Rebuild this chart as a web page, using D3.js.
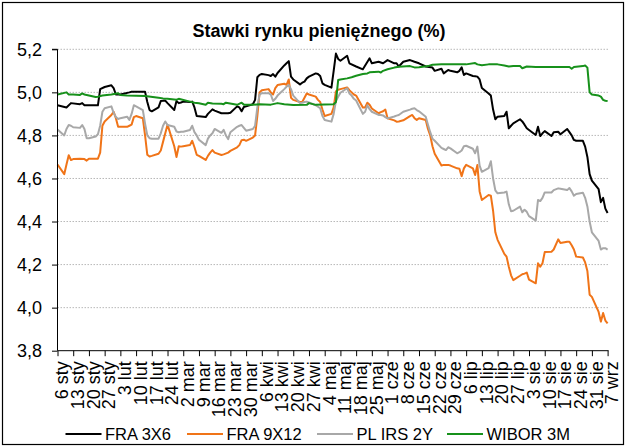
<!DOCTYPE html>
<html>
<head>
<meta charset="utf-8">
<script src="https://cdn.jsdelivr.net/npm/d3@7"></script>
<style>
  body { margin: 0; background: #fff; }
  svg { display: block; }
  .narrow { font-family: "Liberation Sans Narrow", "Arial Narrow", "Liberation Sans", Arial, sans-serif; }
</style>
</head>
<body>
<svg id="chart" width="627" height="447"></svg>
<script>
// Money-market rates, 2012 (daily quotes, %)
const YEAR = 2012;
const monthAbbr = ["sty", "lut", "mar", "kwi", "maj", "cze", "lip", "sie", "wrz", "paź", "lis", "gru"];
const yTickValues = [3.8, 4.0, 4.2, 4.4, 4.6, 4.8, 5.0, 5.2];
const seriesNames = ["FRA 3X6", "FRA 9X12", "PL IRS 2Y", "WIBOR 3M"];
const seriesColors = ["#000000", "#f07418", "#a8a8a8", "#17911b"];

const fra3x6 = [["01-06",4.94],["01-10",4.93],["01-12",4.95],["01-16",4.945],["01-17",4.95],["01-18",4.94],["01-24",4.94],["01-25",5.015],["01-27",5.025],["01-30",5.033],["01-31",5.02],["02-01",4.99],["02-03",4.99],["02-07",5.0],["02-08",5.003],["02-14",5.003],["02-15",4.955],["02-16",4.918],["02-17",4.912],["02-20",4.93],["02-21",4.96],["02-23",4.962],["02-24",4.95],["02-27",4.918],["02-28",4.96],["02-29",4.95],["03-01",4.953],["03-02",4.957],["03-05",4.955],["03-06",4.957],["03-07",4.93],["03-08",4.89],["03-12",4.885],["03-13",4.9],["03-15",4.921],["03-16",4.915],["03-19",4.903],["03-22",4.903],["03-23",4.905],["03-26",4.935],["03-27",4.93],["03-28",4.912],["03-29",4.932],["03-30",4.935],["04-02",4.945],["04-03",4.965],["04-04",5.07],["04-05",5.081],["04-06",5.085],["04-09",5.08],["04-10",5.076],["04-11",5.085],["04-12",5.073],["04-13",5.09],["04-16",5.125],["04-17",5.135],["04-18",5.145],["04-19",5.073],["04-20",5.06],["04-23",5.037],["04-24",5.045],["04-25",5.05],["04-26",5.065],["04-27",5.073],["04-30",5.088],["05-01",5.085],["05-02",5.076],["05-03",5.042],["05-04",5.035],["05-07",5.022],["05-08",5.1],["05-09",5.18],["05-10",5.155],["05-11",5.147],["05-14",5.17],["05-15",5.135],["05-18",5.12],["05-21",5.107],["05-24",5.158],["05-25",5.135],["05-28",5.142],["05-30",5.135],["06-01",5.15],["06-04",5.135],["06-05",5.135],["06-06",5.12],["06-08",5.142],["06-11",5.15],["06-13",5.142],["06-15",5.135],["06-18",5.12],["06-21",5.115],["06-22",5.1],["06-25",5.11],["06-26",5.088],["06-28",5.104],["06-29",5.1],["07-02",5.093],["07-03",5.1],["07-04",5.116],["07-05",5.081],["07-06",5.088],["07-09",5.076],["07-10",5.075],["07-11",5.073],["07-12",5.06],["07-13",5.02],["07-16",4.995],["07-17",4.985],["07-18",4.92],["07-19",4.875],["07-20",4.887],["07-23",4.89],["07-24",4.91],["07-25",4.833],["07-26",4.845],["07-27",4.856],["07-30",4.875],["07-31",4.865],["08-01",4.85],["08-02",4.833],["08-03",4.825],["08-06",4.802],["08-07",4.84],["08-08",4.797],["08-09",4.81],["08-10",4.82],["08-13",4.797],["08-14",4.815],["08-16",4.817],["08-17",4.805],["08-20",4.83],["08-21",4.815],["08-22",4.8],["08-23",4.779],["08-24",4.775],["08-27",4.775],["08-28",4.748],["08-29",4.7],["08-30",4.62],["08-31",4.59],["09-03",4.55],["09-04",4.49],["09-05",4.51],["09-06",4.46],["09-07",4.44]];

const fra9x12 = [["01-06",4.665],["01-09",4.62],["01-10",4.665],["01-11",4.708],["01-12",4.686],["01-13",4.69],["01-16",4.692],["01-18",4.69],["01-19",4.683],["01-20",4.692],["01-24",4.692],["01-25",4.72],["01-26",4.845],["01-27",4.865],["01-30",4.895],["01-31",4.91],["02-01",4.88],["02-02",4.84],["02-06",4.84],["02-07",4.845],["02-08",4.85],["02-09",4.885],["02-10",4.89],["02-13",4.88],["02-14",4.8],["02-15",4.71],["02-16",4.702],["02-17",4.705],["02-20",4.715],["02-21",4.73],["02-22",4.77],["02-23",4.81],["02-24",4.85],["02-27",4.75],["02-28",4.70],["02-29",4.75],["03-01",4.748],["03-02",4.75],["03-05",4.755],["03-06",4.775],["03-07",4.745],["03-08",4.71],["03-09",4.705],["03-12",4.686],["03-13",4.705],["03-14",4.72],["03-15",4.732],["03-16",4.72],["03-19",4.709],["03-20",4.712],["03-22",4.72],["03-23",4.728],["03-26",4.745],["03-27",4.755],["03-28",4.778],["03-29",4.78],["03-30",4.775],["04-02",4.79],["04-03",4.8],["04-04",4.89],["04-05",5.0],["04-06",5.01],["04-09",5.015],["04-10",5.0],["04-11",4.99],["04-12",5.02],["04-13",5.034],["04-16",5.04],["04-17",5.035],["04-18",5.06],["04-19",4.975],["04-20",4.965],["04-23",4.955],["04-24",4.955],["04-25",4.975],["04-26",4.995],["04-27",4.99],["04-30",4.98],["05-01",4.965],["05-02",4.955],["05-03",4.92],["05-04",4.89],["05-07",4.9],["05-08",4.93],["05-09",5.005],["05-10",5.012],["05-11",5.015],["05-14",5.023],["05-15",5.01],["05-16",5.0],["05-17",4.99],["05-18",4.985],["05-21",4.93],["05-22",4.93],["05-23",4.952],["05-24",4.942],["05-25",4.925],["05-28",4.903],["05-29",4.908],["05-30",4.912],["05-31",4.92],["06-01",4.88],["06-04",4.87],["06-05",4.864],["06-06",4.865],["06-08",4.87],["06-11",4.89],["06-12",4.895],["06-13",4.88],["06-14",4.872],["06-15",4.88],["06-18",4.872],["06-19",4.83],["06-20",4.8],["06-21",4.75],["06-22",4.715],["06-25",4.66],["06-26",4.663],["06-28",4.663],["06-29",4.66],["07-02",4.647],["07-03",4.645],["07-04",4.611],["07-05",4.647],["07-06",4.663],["07-09",4.647],["07-10",4.616],["07-11",4.663],["07-12",4.54],["07-13",4.5],["07-16",4.523],["07-17",4.52],["07-18",4.45],["07-19",4.35],["07-20",4.315],["07-23",4.25],["07-24",4.237],["07-25",4.19],["07-26",4.15],["07-27",4.128],["07-30",4.148],["07-31",4.155],["08-01",4.158],["08-02",4.163],["08-03",4.13],["08-06",4.113],["08-07",4.206],["08-08",4.19],["08-09",4.206],["08-10",4.258],["08-13",4.26],["08-14",4.27],["08-16",4.317],["08-17",4.3],["08-20",4.306],["08-21",4.306],["08-22",4.29],["08-23",4.27],["08-24",4.237],["08-27",4.233],["08-28",4.21],["08-29",4.17],["08-30",4.06],["08-31",4.05],["09-03",3.98],["09-04",3.935],["09-05",3.975],["09-06",3.94],["09-07",3.927]];

const plIrs2y = [["01-06",4.828],["01-09",4.8],["01-10",4.83],["01-11",4.848],["01-12",4.845],["01-13",4.838],["01-16",4.835],["01-17",4.848],["01-18",4.83],["01-19",4.787],["01-20",4.787],["01-23",4.795],["01-24",4.805],["01-25",4.845],["01-26",4.91],["01-27",4.926],["01-30",4.935],["01-31",4.905],["02-01",4.885],["02-02",4.876],["02-03",4.88],["02-06",4.887],["02-07",4.872],["02-08",4.9],["02-09",4.94],["02-10",4.935],["02-13",4.918],["02-14",4.855],["02-15",4.8],["02-16",4.787],["02-17",4.785],["02-20",4.785],["02-21",4.81],["02-22",4.845],["02-23",4.865],["02-24",4.848],["02-27",4.84],["02-28",4.818],["02-29",4.815],["03-01",4.817],["03-02",4.817],["03-05",4.825],["03-06",4.845],["03-07",4.815],["03-08",4.8],["03-09",4.78],["03-12",4.755],["03-13",4.785],["03-14",4.8],["03-15",4.81],["03-16",4.83],["03-19",4.812],["03-20",4.826],["03-21",4.8],["03-22",4.783],["03-23",4.815],["03-26",4.84],["03-27",4.845],["03-28",4.848],["03-29",4.835],["03-30",4.822],["04-02",4.83],["04-03",4.845],["04-04",4.93],["04-05",4.99],["04-06",4.996],["04-09",4.996],["04-10",4.99],["04-11",4.96],["04-12",4.97],["04-13",4.985],["04-16",5.015],["04-17",5.026],["04-18",5.034],["04-19",5.015],["04-20",4.985],["04-23",4.95],["04-24",4.952],["04-25",4.955],["04-26",4.957],["04-27",4.953],["04-30",4.94],["05-01",4.933],["05-02",4.926],["05-03",4.89],["05-04",4.872],["05-07",4.864],["05-08",4.9],["05-09",4.96],["05-10",4.98],["05-11",4.998],["05-14",5.019],["05-15",4.995],["05-16",4.985],["05-17",4.97],["05-18",4.962],["05-21",4.9],["05-22",4.91],["05-23",4.94],["05-24",4.922],["05-25",4.91],["05-28",4.895],["05-29",4.895],["05-30",4.893],["05-31",4.885],["06-01",4.879],["06-04",4.888],["06-05",4.892],["06-06",4.895],["06-08",4.91],["06-11",4.92],["06-12",4.924],["06-13",4.926],["06-14",4.918],["06-15",4.912],["06-18",4.887],["06-19",4.85],["06-20",4.815],["06-21",4.785],["06-22",4.775],["06-25",4.742],["06-26",4.737],["06-27",4.732],["06-28",4.745],["06-29",4.74],["07-02",4.717],["07-03",4.722],["07-04",4.73],["07-05",4.75],["07-06",4.752],["07-09",4.738],["07-10",4.717],["07-11",4.748],["07-12",4.66],["07-13",4.631],["07-16",4.648],["07-17",4.68],["07-18",4.6],["07-19",4.545],["07-20",4.531],["07-23",4.535],["07-24",4.539],["07-25",4.48],["07-26",4.448],["07-27",4.45],["07-30",4.469],["07-31",4.443],["08-01",4.455],["08-02",4.445],["08-03",4.425],["08-06",4.404],["08-07",4.5],["08-08",4.495],["08-09",4.51],["08-10",4.535],["08-13",4.535],["08-14",4.546],["08-16",4.554],["08-17",4.552],["08-20",4.546],["08-21",4.556],["08-22",4.54],["08-23",4.52],["08-24",4.528],["08-27",4.534],["08-28",4.51],["08-29",4.47],["08-30",4.4],["08-31",4.35],["09-03",4.31],["09-04",4.27],["09-05",4.276],["09-06",4.276],["09-07",4.27]];

const wibor3m = [["01-06",4.99],["01-10",5.0],["01-11",4.99],["01-13",4.99],["01-16",4.988],["01-17",4.995],["01-18",4.99],["01-20",4.985],["01-23",4.978],["01-24",4.98],["01-26",4.985],["01-30",4.99],["02-02",4.996],["02-03",4.988],["02-06",4.985],["02-14",4.983],["02-20",4.975],["02-22",4.972],["02-24",4.97],["02-28",4.966],["02-29",4.97],["03-05",4.957],["03-07",4.952],["03-09",4.949],["03-12",4.942],["03-13",4.952],["03-15",4.948],["03-19",4.947],["03-20",4.945],["03-21",4.952],["03-26",4.942],["03-28",4.952],["03-29",4.943],["04-02",4.942],["04-05",4.945],["04-10",4.943],["04-13",4.95],["04-16",4.945],["04-20",4.941],["04-26",4.942],["04-27",4.95],["04-30",4.942],["05-08",4.945],["05-09",4.955],["05-10",5.057],["05-11",5.06],["05-14",5.065],["05-16",5.07],["05-18",5.077],["05-21",5.085],["05-23",5.088],["05-24",5.093],["05-28",5.096],["05-29",5.092],["05-30",5.1],["06-01",5.107],["06-04",5.115],["06-06",5.119],["06-11",5.122],["06-13",5.116],["06-15",5.117],["06-19",5.122],["06-21",5.128],["06-25",5.13],["07-06",5.13],["07-10",5.136],["07-11",5.13],["07-13",5.126],["07-16",5.13],["07-20",5.13],["07-23",5.125],["07-25",5.12],["07-27",5.122],["07-30",5.122],["07-31",5.112],["08-02",5.12],["08-06",5.118],["08-21",5.118],["08-22",5.11],["08-23",5.118],["08-27",5.122],["08-28",5.125],["08-29",5.115],["08-30",5.0],["08-31",4.99],["09-03",4.985],["09-04",4.98],["09-05",4.965],["09-06",4.961],["09-07",4.96]];

const seriesData = [fra3x6, fra9x12, plIrs2y, wibor3m];

const parseDay = d3.timeParse("%Y-%m-%d");
const toPoints = arr => arr.map(([md, v]) => ({ date: parseDay(`${YEAR}-${md}`), value: v }));
const series = seriesNames.map((name, i) => ({ name, color: seriesColors[i], points: toPoints(seriesData[i]) }));

const svg = d3.select("#chart");
const plot = { left: 57.5, right: 607.6, top: 49.3, bottom: 350.7 };

const startDate = parseDay(`${YEAR}-01-06`);
const endDate = parseDay(`${YEAR}-09-07`);

const x = d3.scaleTime().domain([startDate, endDate]).range([plot.left, plot.right]);
const y = d3.scaleLinear().domain([3.8, 5.2]).range([plot.bottom, plot.top]);

// outer frame
svg.append("rect")
  .attr("x", 2.5).attr("y", 2.5).attr("width", 621).attr("height", 442)
  .attr("fill", "#fff").attr("stroke", "#000").attr("stroke-width", 1.2);

// title
svg.append("text")
  .attr("x", 319).attr("y", 37)
  .attr("text-anchor", "middle")
  .style("font-family", "'Liberation Sans', Arial, sans-serif")
  .style("font-weight", "bold")
  .style("font-size", "18px")
  .text("Stawki rynku pieniężnego (%)");

// horizontal grid
svg.append("g")
  .selectAll("line")
  .data(yTickValues.filter(v => v > 3.8))
  .join("line")
  .attr("x1", plot.left).attr("x2", plot.right + 1.5)
  .attr("y1", d => y(d)).attr("y2", d => y(d))
  .attr("stroke", "#b8b8b8").attr("stroke-width", 1)
  .attr("stroke-dasharray", "1.5,1.5");

// lines
const line = d3.line().x(d => x(d.date)).y(d => y(d.value));
svg.append("g")
  .selectAll("path")
  .data(series)
  .join("path")
  .attr("d", d => line(d.points))
  .attr("fill", "none")
  .attr("stroke", d => d.color)
  .attr("stroke-width", 2)
  .attr("stroke-linejoin", "round");

// y axis
const yAxis = d3.axisLeft(y)
  .tickValues(yTickValues)
  .tickSize(5.5)
  .tickPadding(10)
  .tickFormat(v => d3.format(".1f")(v).replace(".", ","));
const gy = svg.append("g").attr("transform", `translate(${plot.left},0)`).call(yAxis);
gy.select(".domain").attr("stroke", "#000").attr("d", `M-5.5,${plot.top}H0V${plot.bottom}`);
gy.selectAll(".tick line").attr("stroke", "#000");
gy.selectAll("text")
  .attr("class", "narrow")
  .style("font-size", "18px")
  .attr("fill", "#000");
gy.attr("font-family", null).attr("font-size", null);

// x axis (weekly ticks on Fridays)
const weekTicks = d3.timeFriday.range(startDate, d3.timeDay.offset(endDate, 1));
const fmtTick = d => `${d.getDate()} ${monthAbbr[d.getMonth()]}`;
const xAxis = d3.axisBottom(x)
  .tickValues(weekTicks)
  .tickSize(5.5)
  .tickFormat(fmtTick);
const gx = svg.append("g").attr("transform", `translate(0,${plot.bottom})`).call(xAxis);
gx.select(".domain").attr("stroke", "#000").attr("d", `M${plot.left},0H${plot.right + 1}`);
gx.selectAll(".tick line").attr("stroke", "#000");
gx.selectAll("text")
  .attr("class", "narrow")
  .style("font-size", "18px")
  .attr("fill", "#000")
  .attr("text-anchor", "end")
  .attr("transform", "rotate(-90)")
  .attr("x", -10.5)
  .attr("y", 4)
  .attr("dy", "0.35em");
gx.attr("font-family", null).attr("font-size", null);

// legend
const legendX = [65.5, 187, 317, 447];
const legendY = 434;
const lg = svg.append("g").selectAll("g").data(series).join("g")
  .attr("transform", (d, i) => `translate(${legendX[i]},${legendY})`);
lg.append("line").attr("x1", 0).attr("x2", 36).attr("y1", 0).attr("y2", 0)
  .attr("stroke", d => d.color).attr("stroke-width", 2);
lg.append("text").attr("class", "narrow")
  .attr("x", 39.5).attr("y", 0).attr("dy", "0.35em")
  .style("font-size", "16.5px")
  .text(d => d.name);
</script>
</body>
</html>
